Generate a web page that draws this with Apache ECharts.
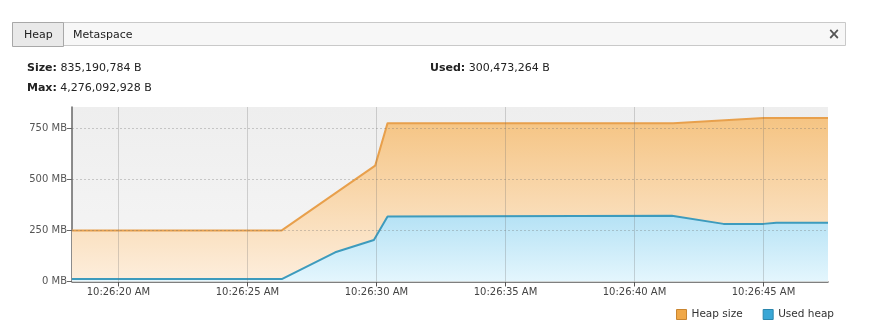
<!DOCTYPE html>
<html>
<head>
<meta charset="utf-8">
<script src="https://cdn.jsdelivr.net/npm/echarts@6/dist/echarts.min.js"></script>
<style>
html,body{margin:0;padding:0;background:#fff;}
#chart{width:870px;height:332px;}
</style>
</head>
<body>
<div id="chart"></div>
<script>
// seconds after 10:26:00 AM
const heapTimes = [18.2, 26.33, 29.95, 30.43, 41.5, 45.0, 47.5];
const heapSizeMB = [250, 250, 567, 775, 775, 800, 800];
const usedTimes = [18.2, 26.33, 28.4, 29.9, 30.43, 41.45, 43.45, 45.0, 45.5, 47.5];
const usedHeapMB = [12, 12, 143, 203, 318, 322, 282, 282, 288, 288];
const xTicks = [20, 25, 30, 35, 40, 45];
const yTicks = [0, 250, 500, 750];
const seriesNames = ['Heap size', 'Used heap'];
const sizeText = '835,190,784 B';
const maxText = '4,276,092,928 B';
const usedText = '300,473,264 B';

function timeLabel(s) {
  return '10:26:' + String(Math.round(s)).padStart(2, '0') + ' AM';
}

const FONT = 'DejaVu Sans';
const gridLines = xTicks.map(v => ({ xAxis: v, lineStyle: { color: 'rgba(110,110,110,0.28)', type: 'solid', width: 1 } }))
  .concat(yTicks.filter(v => v > 0).map(v => ({ yAxis: v, lineStyle: { color: 'rgba(110,110,110,0.32)', type: [2, 2], width: 1 } })));

const chart = echarts.init(document.getElementById('chart'));
chart.setOption({
  animation: false,
  backgroundColor: '#ffffff',
  textStyle: { fontFamily: FONT },
  graphic: [
    { type: 'rect', shape: { x: 12.5, y: 22.5, width: 833, height: 23 }, style: { fill: '#f7f7f7', stroke: '#c9c9c9', lineWidth: 1 } },
    { type: 'rect', shape: { x: 12.5, y: 22.5, width: 51, height: 24 }, style: { fill: '#e9e9e9', stroke: '#a8a8a8', lineWidth: 1 } },
    { type: 'text', x: 24, y: 35, style: { text: 'Heap', font: '11px "DejaVu Sans"', fill: '#222', verticalAlign: 'middle' } },
    { type: 'text', x: 73, y: 35, style: { text: 'Metaspace', font: '11px "DejaVu Sans"', fill: '#222', verticalAlign: 'middle' } },
    { type: 'text', x: 834, y: 35, style: { text: '×', font: 'bold 15px "DejaVu Sans"', fill: '#555', align: 'center', verticalAlign: 'middle' } },
    { type: 'text', x: 27, y: 68, style: { text: '{b|Size:} ' + sizeText, font: '11px "DejaVu Sans"', fill: '#222', verticalAlign: 'middle', rich: { b: { fontWeight: 'bold', fontSize: 11, fontFamily: FONT, fill: '#222' } } } },
    { type: 'text', x: 27, y: 88, style: { text: '{b|Max:} ' + maxText, font: '11px "DejaVu Sans"', fill: '#222', verticalAlign: 'middle', rich: { b: { fontWeight: 'bold', fontSize: 11, fontFamily: FONT, fill: '#222' } } } },
    { type: 'text', x: 430, y: 68, style: { text: '{b|Used:} ' + usedText, font: '11px "DejaVu Sans"', fill: '#222', verticalAlign: 'middle', rich: { b: { fontWeight: 'bold', fontSize: 11, fontFamily: FONT, fill: '#222' } } } }
  ],
  legend: {
    right: 31, bottom: 7,
    itemWidth: 10, itemHeight: 10, itemGap: 20,
    icon: 'rect',
    textStyle: { fontFamily: FONT, fontSize: 10.5, color: '#333' },
    data: [
      { name: seriesNames[0], itemStyle: { color: '#f0a848', borderColor: '#c98530', borderWidth: 1 } },
      { name: seriesNames[1], itemStyle: { color: '#3aa7d6', borderColor: '#2a86ad', borderWidth: 1 } }
    ]
  },
  grid: { left: 72, right: 42, top: 107, bottom: 50.5, show: true, backgroundColor: {
    type: 'linear', x: 0, y: 0, x2: 0, y2: 1,
    colorStops: [{ offset: 0, color: '#eeeeee' }, { offset: 1, color: '#f6f6f6' }] }, borderWidth: 0 },
  xAxis: {
    type: 'value', min: 18.2, max: 47.5,
    axisLine: { show: true, lineStyle: { color: '#555', width: 1.5 } },
    axisTick: { show: true, customValues: xTicks, length: 5, lineStyle: { color: '#555' } },
    axisLabel: { customValues: xTicks, formatter: timeLabel, color: '#444', fontSize: 10, fontFamily: FONT, margin: 6 },
    splitLine: { show: false }
  },
  yAxis: {
    type: 'value', min: 0, max: 854,
    axisLine: { show: true, lineStyle: { color: '#666', width: 1.5 } },
    axisTick: { show: true, customValues: yTicks, length: 5, lineStyle: { color: '#666' } },
    axisLabel: { customValues: yTicks, formatter: v => v + ' MB', color: '#555', fontSize: 10, fontFamily: FONT, margin: 5 },
    splitLine: { show: false }
  },
  series: [
    {
      name: seriesNames[0], type: 'line', symbol: 'none', z: 2,
      data: heapTimes.map((t, i) => [t, heapSizeMB[i]]),
      itemStyle: { color: '#f0a848' },
      lineStyle: { color: '#e8a04c', width: 2 },
      areaStyle: { opacity: 1, color: { type: 'linear', x: 0, y: 0, x2: 0, y2: 1,
        colorStops: [{ offset: 0, color: '#f5c483' }, { offset: 1, color: '#fdeedd' }] } }
    },
    {
      name: seriesNames[1], type: 'line', symbol: 'none', z: 3,
      data: usedTimes.map((t, i) => [t, usedHeapMB[i]]),
      itemStyle: { color: '#3aa7d6' },
      lineStyle: { color: '#3d9bbd', width: 2 },
      areaStyle: { opacity: 1, origin: 'start', color: { type: 'linear', x: 0, y: 0, x2: 0, y2: 1,
        colorStops: [{ offset: 0, color: '#b5e2f5' }, { offset: 1, color: '#e4f6fd' }] } },
      markLine: { silent: true, symbol: 'none', label: { show: false }, data: gridLines }
    }
  ]
});
</script>
</body>
</html>
